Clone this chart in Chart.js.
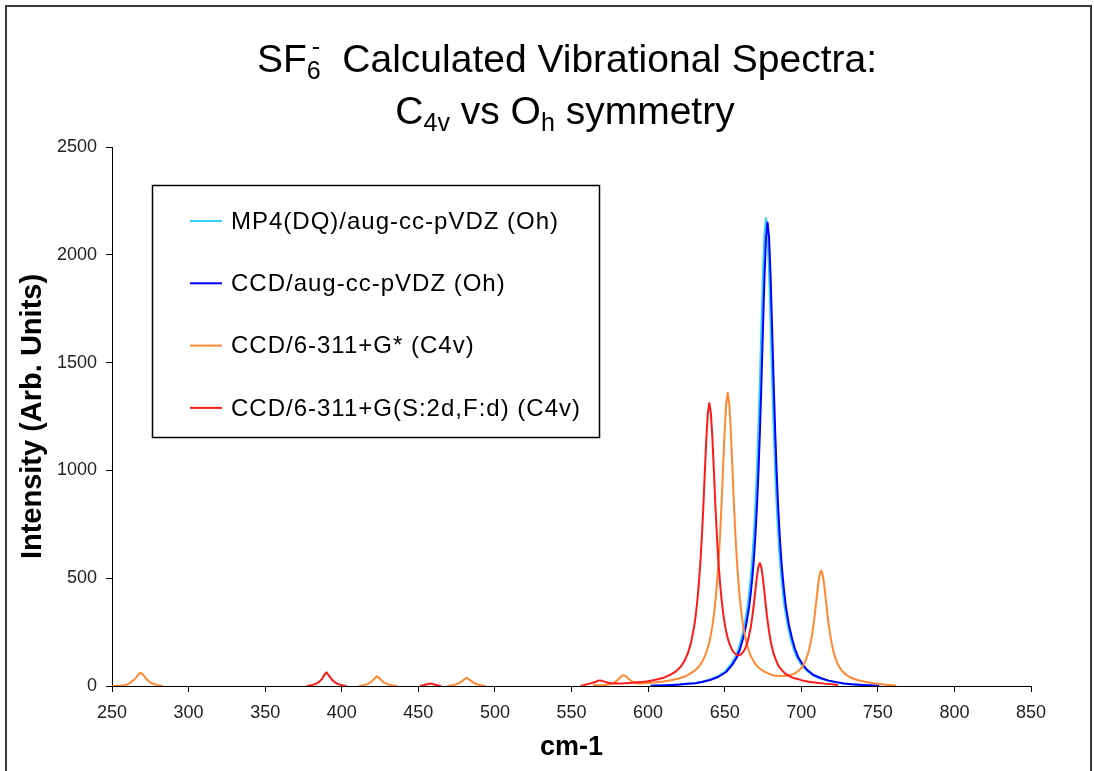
<!DOCTYPE html>
<html>
<head>
<meta charset="utf-8">
<script src="https://cdn.jsdelivr.net/npm/chart.js@4.4.1/dist/chart.umd.min.js"></script>
<style>
html,body{margin:0;padding:0;background:#fff;}
#wrap{width:1094px;height:771px;position:relative;overflow:hidden;}
</style>
</head>
<body>
<div id="wrap"><canvas id="c" width="1094" height="771"></canvas></div>
<script>
// ---------- DATA ----------
const seriesLabels = [
  'MP4(DQ)/aug-cc-pVDZ (Oh)',
  'CCD/aug-cc-pVDZ (Oh)',
  'CCD/6-311+G* (C4v)',
  'CCD/6-311+G(S:2d,F:d) (C4v)'
];
const seriesColors = ['#33CCFF', '#0000FF', '#FF8833', '#FF1A1A'];

const xTicks = [250, 300, 350, 400, 450, 500, 550, 600, 650, 700, 750, 800, 850];
const yTicks = [0, 500, 1000, 1500, 2000, 2500];

// MP4(DQ)/aug-cc-pVDZ (Oh)
const mp4X = [601,605,610,615,620,625,630,635,640,645,650,654,657,659,661,663,665,666,667,668,669,670,671,672,673,674,675,676,677,678,679,680,681,682,683,684,685,686,687,688,689,691,693,695,697,700,703,707,712,717,722,727,732,737,742,747,750];
const mp4Y = [1,2,3,5,7,10,13,20,29,43,66,100,135,172,222,285,372,432,503,590,697,829,992,1189,1419,1673,1916,2100,2170,2100,1916,1673,1419,1189,992,829,697,590,503,432,372,285,222,172,135,100,75,52,36,25,18,12,8,6,4,2,1];

// CCD/aug-cc-pVDZ (Oh)
const ccdOhX = [602,606,611,616,621,626,631,636,641,646,651,655,658,660,662,664,666,667,668,669,670,671,672,673,674,675,676,677,678,679,680,681,682,683,684,685,686,687,688,689,690,692,694,696,698,701,704,708,713,718,723,728,733,738,743,748,751];
const ccdOhY = [1,2,3,5,7,10,13,20,29,43,65,99,134,170,220,282,368,428,498,584,690,821,982,1177,1405,1656,1897,2079,2150,2079,1897,1656,1405,1177,982,821,690,584,498,428,368,282,220,170,134,99,74,51,36,25,18,12,8,6,4,2,1];

// CCD/6-311+G* (C4v)   (null = no data, line is broken)
const ccdGX = [250,252,254,256,258,260,262,264,266,268,269,270,272,274,276,278,280,282,283,
  300,
  411,413,415,417,419,421,423,425,427,429,431,433,435,436,
  450,
  469,471,473,475,477,479,481,482,484,486,488,490,492,494,
  530,
  564,566,568,570,572,574,576,578,580,582,584,586,588,590,592,594,597,600,605,610,615,620,624,627,630,632,634,636,638,640,641,642,643,644,645,646,647,648,649,650,651,652,653,654,655,656,657,658,659,660,661,662,663,664,665,666,667,668,670,672,674,676,678,680,682,684,686,688,690,692,694,696,698,700,701,702,703,704,705,706,707,708,709,710,711,712,713,714,715,716,717,718,719,720,721,722,723,724,725,727,729,731,733,736,740,745,750,755,760,762];
const ccdGY = [0,0,1,2,4,8,16,26,41,59,60,55,36,22,13,8,4,1,0,
  null,
  0,2,5,10,18,32,45,33,19,11,6,3,1,0,
  null,
  0,2,5,9,15,25,36,37,26,15,9,5,2,0,
  null,
  2,3,3,4,5,7,10,17,27,41,51,42,29,19,14,11,13,14,17,21,27,35,44,55,69,81,98,122,155,204,237,280,332,397,478,577,700,850,1020,1184,1310,1360,1311,1185,1021,851,701,579,480,399,334,283,241,208,182,160,140,127,102,86,75,66,60,54,49,48,46,46,47,49,53,59,69,82,93,105,121,141,165,197,235,282,340,406,469,517,536,517,468,404,338,280,232,193,161,136,116,100,86,67,54,44,37,29,22,15,10,6,3,1];

// CCD/6-311+G(S:2d,F:d) (C4v)
const ccdSX = [377,379,381,383,385,387,389,390,392,394,396,398,400,402,403,
  420,
  451,453,455,457,459,461,463,465,
  500,
  556,558,560,562,564,566,568,570,572,574,576,578,580,585,590,595,600,605,610,615,618,620,622,624,626,628,630,631,632,633,634,635,636,637,638,639,640,641,642,643,644,645,646,647,648,649,650,651,652,653,654,655,656,657,658,659,660,661,662,663,664,665,666,667,668,669,670,671,672,673,674,675,676,677,678,679,680,681,682,683,684,685,686,688,690,692,694,696,698,700,705,710,715,720,724];
const ccdSY = [0,2,5,10,18,32,55,63,45,26,15,8,4,1,0,
  null,
  0,3,7,10,10,6,2,0,
  null,
  2,4,8,11,15,20,26,24,19,15,13,12,12,13,15,18,22,29,38,54,67,80,96,120,152,200,272,322,385,463,558,677,821,985,1142,1264,1312,1266,1146,990,828,685,568,475,399,338,290,252,222,199,181,166,156,149,144,143,144,149,157,168,185,206,236,271,318,375,440,503,553,570,550,498,432,363,303,252,209,176,150,129,112,96,85,68,55,47,40,35,32,27,20,15,11,8,5];

// ---------- build datasets from the arrays ----------
function pts(xs, ys){ return xs.map((x,i)=>({x:x, y:ys[i]})); }
const seriesX = [mp4X, ccdOhX, ccdGX, ccdSX];
const seriesY = [mp4Y, ccdOhY, ccdGY, ccdSY];
const drawOrder = [4, 3, 2, 1]; // later series painted on top (as in the original)

const datasets = seriesLabels.map((lab,i)=>({
  label: lab,
  data: pts(seriesX[i], seriesY[i]),
  borderColor: seriesColors[i],
  backgroundColor: seriesColors[i],
  borderWidth: 2,
  borderJoinStyle: 'round',
  pointRadius: 0,
  tension: 0,
  fill: false,
  spanGaps: false,
  order: drawOrder[i]
}));

const FONT = "'Liberation Sans', Arial, Helvetica, sans-serif";

// ---------- decorations: frame, title, legend box ----------
function drawRuns(ctx, runs, cx, baseY){
  let total = 0;
  runs.forEach(r=>{ ctx.font = r.f; r.w = ctx.measureText(r.t).width; if(!r.over) total += r.w; });
  let x = cx - total/2;
  runs.forEach(r=>{
    ctx.font = r.f;
    ctx.fillText(r.t, x + (r.dx||0), baseY + (r.dy||0));
    if(!r.over) x += r.w;
  });
}

const overlay = {
  id: 'overlay',
  afterDraw(chart){
    const ctx = chart.ctx;
    ctx.save();
    // outer frame
    ctx.strokeStyle = '#3a3a3a';
    ctx.lineWidth = 2;
    ctx.beginPath();
    ctx.moveTo(6, 775); ctx.lineTo(6, 6); ctx.lineTo(1091, 6); ctx.lineTo(1091, 775);
    ctx.stroke();

    // title
    ctx.fillStyle = '#000';
    ctx.textBaseline = 'alphabetic';
    ctx.textAlign = 'left';
    const big = '39px ' + FONT, small = '25px ' + FONT;
    drawRuns(ctx, [
      {t:'SF', f:big},
      {t:'6', f:small, dy:7},
      {t:'-', f:small, dy:-17, dx:-9, over:true},
      {t:'  Calculated Vibrational Spectra:', f:big}
    ], 567, 72);
    drawRuns(ctx, [
      {t:'C', f:big},
      {t:'4v', f:small, dy:7},
      {t:' vs O', f:big},
      {t:'h', f:small, dy:7},
      {t:' symmetry', f:big}
    ], 565, 124);

    // legend box
    const bx = 152, by = 185, bw = 447, bh = 252;
    ctx.fillStyle = '#fff';
    ctx.fillRect(bx, by, bw, bh);
    ctx.strokeStyle = '#000';
    ctx.lineWidth = 1.5;
    ctx.strokeRect(bx + 0.5, by + 0.5, bw, bh);
    ctx.font = '24px ' + FONT;
    try { ctx.letterSpacing = '1px'; } catch(e) {}
    ctx.textBaseline = 'middle';
    chart.data.datasets.forEach((ds,i)=>{
      const y = 221 + i*62.3;
      ctx.strokeStyle = ds.borderColor;
      ctx.lineWidth = 2;
      ctx.beginPath(); ctx.moveTo(190, y); ctx.lineTo(222, y); ctx.stroke();
      ctx.fillStyle = '#000';
      ctx.fillText(ds.label, 231, y + 1);
    });
    ctx.restore();
  }
};

new Chart(document.getElementById('c'), {
  type: 'line',
  data: { datasets: datasets },
  plugins: [overlay],
  options: {
    responsive: false,
    animation: false,
    devicePixelRatio: 1,
    layout: { padding: { left: 0, top: 147, right: 63, bottom: 0 } },
    plugins: { legend: { display: false }, title: { display: false }, tooltip: { enabled: false } },
    scales: {
      x: {
        type: 'linear',
        min: 250, max: 850,
        afterBuildTicks: s => { s.ticks = xTicks.map(v=>({value:v})); },
        afterFit: s => { s.height = 85; },
        ticks: { color: '#222', font: { family: FONT, size: 18 }, padding: 10, maxRotation: 0, autoSkip: false, callback: v => String(v) },
        grid: { display: true, drawOnChartArea: false, drawTicks: true, tickLength: 6, tickColor: '#000' },
        border: { display: true, color: '#000', width: 1 },
        title: { display: true, text: 'cm-1', color: '#000', font: { family: FONT, size: 27, weight: 'bold' }, padding: { top: 0, bottom: 7 } }
      },
      y: {
        type: 'linear',
        min: 0, max: 2500,
        afterBuildTicks: s => { s.ticks = yTicks.map(v=>({value:v})); },
        afterFit: s => { s.width = 112; },
        ticks: { color: '#222', font: { family: FONT, size: 18 }, padding: 9, autoSkip: false, callback: v => String(v) },
        grid: { display: true, drawOnChartArea: false, drawTicks: true, tickLength: 6, tickColor: '#000' },
        border: { display: true, color: '#000', width: 1 },
        title: { display: true, text: 'Intensity (Arb. Units)', color: '#000', font: { family: FONT, size: 29, weight: 'bold' }, padding: { top: 16, bottom: 0 } }
      }
    }
  }
});
</script>
</body>
</html>
